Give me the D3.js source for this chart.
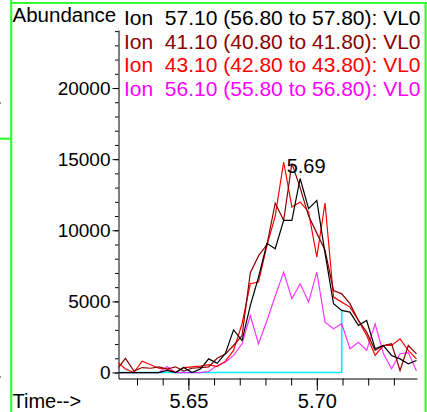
<!DOCTYPE html>
<html><head><meta charset="utf-8">
<script src="https://cdn.jsdelivr.net/npm/d3@7"></script>
<style>
html,body{margin:0;padding:0;background:#fff;}
svg{display:block;font-family:"Liberation Sans",Arial,sans-serif;}
</style></head>
<body><svg id="chart" width="427" height="412"></svg>
<script>
// ---- data ----
const times = [5.6223,5.6255,5.6288,5.6320,5.6353,5.6385,5.6417,5.6450,5.6482,5.6514,5.6547,5.6579,5.6612,5.6644,5.6676,5.6709,5.6741,5.6773,5.6806,5.6838,5.6871,5.6903,5.6935,5.6968,5.7000,5.7032,5.7065,5.7097,5.7129,5.7162,5.7194,5.7227,5.7259,5.7291,5.7324,5.7356,5.7388];
const ion57 = [0,0,0,0,0,0,150,0,350,0,250,960,650,1340,3000,2250,4700,6700,9080,8700,10700,10700,13640,11520,12100,8400,4840,4365,4250,3310,3660,1670,1900,1200,960,610,845];
const ion41 = [250,1000,100,350,300,400,250,400,100,300,350,400,1000,1300,1900,2600,7000,8200,9000,11900,10700,14700,13000,11000,9800,8600,5770,5530,4840,3660,2840,1550,1900,2020,140,1900,1310];
const ion43 = [750,250,0,800,550,300,250,0,350,400,450,550,420,800,1550,3430,6240,6360,8940,11000,14800,11640,11990,11290,8120,11920,5300,4950,4600,3660,2600,1200,1900,1900,2370,1550,960];
const ion56 = [0,0,0,0,0,0,420,0,0,0,0,70,490,725,1200,2020,4010,2020,3660,5360,7060,5190,6240,4950,7060,3540,3080,3430,1670,2130,1550,3430,1340,260,1320,1400,100];
const baseTimes = [5.6200,5.7097,5.7097];
const baseVals = [0,0,4365];
const legendLabels = ["Ion  57.10 (56.80 to 57.80): VL0","Ion  41.10 (40.80 to 41.80): VL0","Ion  43.10 (42.80 to 43.80): VL0","Ion  56.10 (55.80 to 56.80): VL0"];
const seriesColors = ["#000000","#8b0000","#ff0000","#ff00ff"];
const yMajor = [0,5000,10000,15000,20000];
const xMajor = [5.65,5.70];
const peakLabel = "5.69";

// ---- layout ----
const svg = d3.select("#chart");
const x = d3.scaleLinear().domain([5.6228,5.7390]).range([118.5,417]);
const y = d3.scaleLinear().domain([-420,24080]).range([378.5,30]);
const FF = "Liberation Sans, Arial, sans-serif";

// frame
const frame = svg.append("g").attr("stroke","#33ff33").attr("stroke-width",2.2).attr("fill","none");
frame.append("line").attr("x1",11.2).attr("x2",11.2).attr("y1",0).attr("y2",412);
frame.append("line").attr("x1",11.2).attr("x2",427).attr("y1",3).attr("y2",3);
frame.append("line").attr("x1",425.6).attr("x2",425.6).attr("y1",2).attr("y2",412);
frame.append("line").attr("x1",0).attr("x2",11).attr("y1",138.7).attr("y2",138.7);
svg.append("rect").attr("x",0).attr("y",102).attr("width",1).attr("height",2).attr("fill","#999");
svg.append("rect").attr("x",0).attr("y",376).attr("width",1).attr("height",2).attr("fill","#999");

// axes
const yMinor = d3.range(0,24001,1000);
const xMinor = d3.range(5.63,5.7351,0.01);
svg.append("g").attr("transform","translate(118.5,0)")
  .call(d3.axisLeft(y).tickValues(yMinor).tickSize(3.5).tickFormat("").tickSizeOuter(0))
  .call(g=>g.select(".domain").remove());
svg.append("g").attr("transform","translate(118.5,0)")
  .call(d3.axisLeft(y).tickValues(yMajor).tickSize(6).tickPadding(2).tickSizeOuter(0).tickFormat(d3.format("d")))
  .call(g=>g.selectAll("text").attr("font-size",19).attr("font-family",FF).attr("fill","#000"));
svg.append("g").attr("transform","translate(0,378.5)")
  .call(d3.axisBottom(x).tickValues(xMinor).tickSize(7).tickFormat("").tickSizeOuter(0))
  .call(g=>g.select(".domain").remove());
svg.append("g").attr("transform","translate(0,378.5)")
  .call(d3.axisBottom(x).tickValues(xMajor).tickSize(12).tickPadding(3).tickSizeOuter(0).tickFormat(d3.format(".2f")))
  .call(g=>g.selectAll("text").attr("font-size",20).attr("font-family",FF).attr("fill","#000"));
svg.selectAll(".tick line, .domain").attr("stroke","#000").attr("stroke-width",1);

// clip
svg.append("clipPath").attr("id","plotclip").append("rect")
  .attr("x",118.5).attr("y",0).attr("width",299).attr("height",378.5);
const plot = svg.append("g").attr("clip-path","url(#plotclip)");

const line = d3.line().x(d=>x(d[0])).y(d=>y(d[1]));
plot.append("path").datum(baseTimes.map((t,i)=>[t,baseVals[i]]))
  .attr("d",line).attr("fill","none").attr("stroke","#00f0ff").attr("stroke-width",1.6);
const series = [ion57,ion41,ion43,ion56];
const order = [3,2,1,0];
order.forEach(si=>{
  plot.append("path").datum(times.map((t,i)=>[t,series[si][i]]))
    .attr("d",line).attr("fill","none").attr("stroke",seriesColors[si])
    .attr("stroke-width",1.2).attr("stroke-linejoin","miter")
    .attr("stroke-opacity", si===3?0.8:1);
});

// peak label
const pk = d3.maxIndex(ion57);
svg.append("text").attr("x",x(times[pk])+6).attr("y",y(ion57[pk])-6)
  .attr("text-anchor","middle").attr("font-size",20).attr("fill","#000").text(peakLabel);

// titles & legend
svg.append("text").attr("x",12.5).attr("y",22).attr("font-size",20.5).attr("fill","#000").text("Abundance");
svg.append("text").attr("x",12.5).attr("y",408).attr("font-size",20).attr("fill","#000").text("Time-->");
svg.append("clipPath").attr("id","legclip").append("rect").attr("x",0).attr("y",0).attr("width",424.5).attr("height",412);
const leg = svg.append("g").attr("clip-path","url(#legclip)");
legendLabels.forEach((s,i)=>{
  leg.append("text").attr("x",124).attr("y",25+i*23.5).attr("font-size",21)
    .attr("fill",seriesColors[i]).attr("xml:space","preserve").style("white-space","pre").text(s);
});
</script>
</body></html>
